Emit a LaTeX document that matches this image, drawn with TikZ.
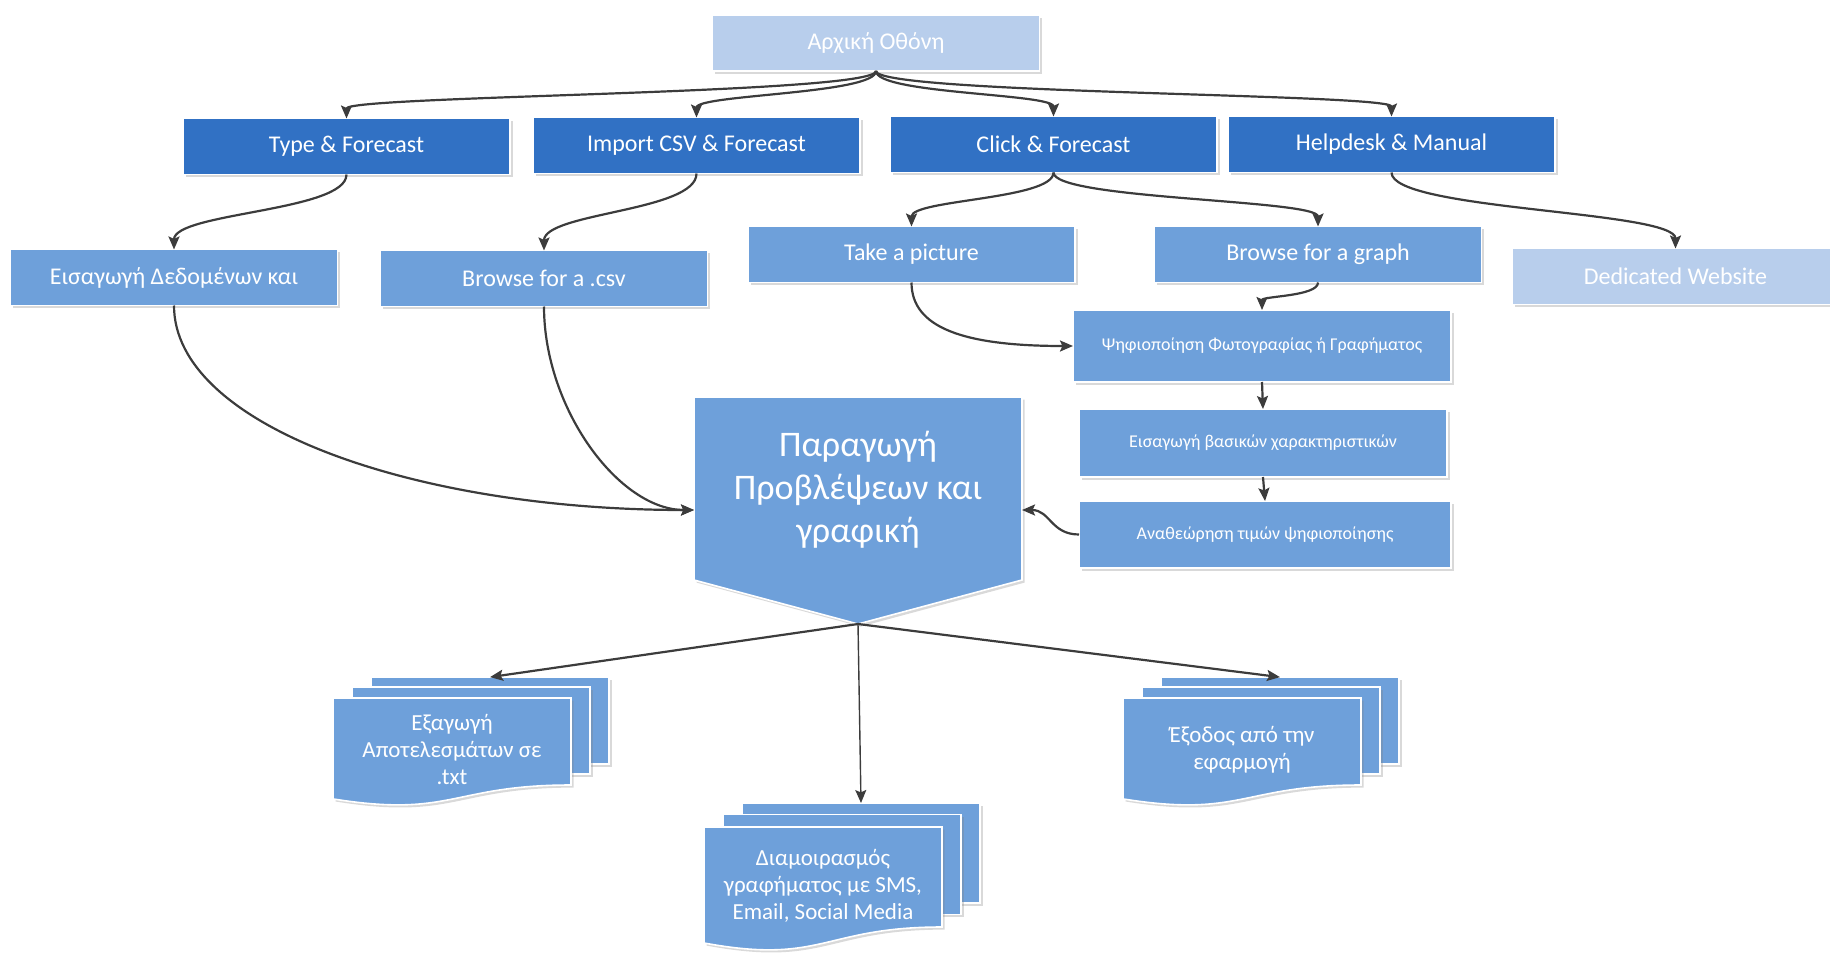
\documentclass[tikz,border=0pt]{standalone}
\usepackage{fontspec}
\setmainfont{Carlito}
\usetikzlibrary{arrows.meta, shadows}
\definecolor{boxdark}{RGB}{49,113,196}
\definecolor{boxmid}{RGB}{110,160,218}
\definecolor{boxlight}{RGB}{184,206,236}
\definecolor{linkgray}{RGB}{60,60,60}

% three stacked pages: name, front page top-left x, y, page height, text
\newcommand{\multidoc}[5]{%
  \node[page, minimum height={#4*0.5pt}, anchor=north west] (#1) at (#2+38,#3-0.24*#4) {};
  \node[page, minimum height={#4*0.5pt}, anchor=north west] (#1-mid) at (#2+19,#3-0.125*#4) {};
  \path[wavepage] (#2,#3) -- (#2+238,#3) -- (#2+238,#3+#4)
        .. controls (#2+119,#3+#4) and (#2+119,#3+1.38*#4) .. (#2,#3+1.16*#4) -- cycle;
  \node[doctext] (#1-txt) at (#2+119,#3+0.59*#4) {#5};
}

\begin{document}
\begin{tikzpicture}[x=0.5pt, y=-0.5pt,
    softshadow/.style={drop shadow={shadow xshift=1.3pt, shadow yshift=-1.3pt, opacity=0.3}},
    box/.style={rectangle, draw=white, line width=0.8pt, text=white, softshadow,
                minimum width=163.5pt, minimum height=28pt, inner sep=2pt, outer sep=0pt,
                font=\fontsize{12}{14}\selectfont},
    darkbox/.style={box, fill=boxdark},
    midbox/.style={box, fill=boxmid},
    lightbox/.style={box, fill=boxlight},
    stepbox/.style={midbox, font=\fontsize{9}{11}\selectfont},
    page/.style={rectangle, fill=boxmid, draw=white, line width=0.8pt, softshadow,
                 minimum width=119pt, inner sep=0pt, outer sep=0pt},
    wavepage/.style={fill=boxmid, draw=white, line width=0.8pt, softshadow},
    doctext/.style={text=white, align=center, font=\fontsize{11.5}{13.5}\selectfont},
    bigtext/.style={text=white, align=center, font=\fontsize{18}{21.5}\selectfont},
    link/.style={draw=linkgray, line width=1.1pt, -{Stealth[length=6.5pt, width=5.5pt, inset=1.2pt]}}]
  \useasboundingbox (0,0) rectangle (1830,953);

  % top rows
  \node[lightbox] (home) at (876,43) {Αρχική Οθόνη};
  \foreach \n/\x/\y/\lbl in {type/346.5/146.5/Type \& Forecast,
                             imp/696.5/145.5/Import CSV \& Forecast,
                             click/1053.5/144.5/Click \& Forecast,
                             help/1391.5/144.5/Helpdesk \& Manual} {
    \node[darkbox] (\n) at (\x,\y) {\lbl};
  }
  \node[midbox] (enter) at (174,277.5) {Εισαγωγή Δεδομένων και};
  \node[midbox] (csv) at (544,278.5) {Browse for a .csv};
  \node[midbox] (pic) at (911.5,254.5) {Take a picture};
  \node[midbox] (graph) at (1318,254.5) {Browse for a graph};
  \node[lightbox] (web) at (1675.5,276.5) {Dedicated Website};

  % digitising steps
  \node[stepbox, minimum width=189pt, minimum height=36pt] (digit) at (1262,346)
        {Ψηφιοποίηση Φωτογραφίας ή Γραφήματος};
  \node[stepbox, minimum width=184pt, minimum height=34pt] (feat) at (1263,443)
        {Εισαγωγή βασικών χαρακτηριστικών};
  \node[stepbox, minimum width=186pt, minimum height=33.5pt] (revise) at (1265,534.5)
        {Αναθεώρηση τιμών ψηφιοποίησης};

  % forecast block
  \path[wavepage] (694,397) -- (1022,397) -- (1022,580) -- (858,624) -- (694,580) -- cycle;
  \node[bigtext] (prod) at (858,490) {Παραγωγή\\Προβλέψεων και\\γραφική};
  \coordinate (prodwest) at (694,510);
  \coordinate (prodeast) at (1022,510);
  \coordinate (prodtip) at (858,624);

  % outputs
  \multidoc{exp}{333}{698}{87}{Εξαγωγή\\Αποτελεσμάτων σε\\.txt}
  \multidoc{share}{704}{827}{100}{Διαμοιρασμός\\γραφήματος με SMS,\\Email, Social Media}
  \multidoc{quit}{1123}{698}{87}{Έξοδος από την\\εφαρμογή}

  % connectors
  \foreach \n in {type, imp, click, help} {
    \draw[link] (home.south) .. controls +(0,23) and +(0,-23) .. (\n.north);
  }
  \draw[link] (type.south) .. controls +(0,37) and +(0,-37) .. (enter.north);
  \draw[link] (imp.south) .. controls +(0,38) and +(0,-38) .. (csv.north);
  \draw[link] (click.south) .. controls +(0,27) and +(0,-27) .. (pic.north);
  \draw[link] (click.south) .. controls +(0,27) and +(0,-27) .. (graph.north);
  \draw[link] (help.south) .. controls +(0,38) and +(0,-38) .. (web.north);
  \draw[link] (graph.south) .. controls +(0,14) and +(0,-14) .. (digit.north);
  \draw[link] (pic.south) .. controls +(0,45) and +(-110,0) .. (digit.west);
  \draw[link] (enter.south) .. controls +(0,120) and +(-280,0) .. (prodwest);
  \draw[link] (csv.south) .. controls +(0,102) and +(-75,0) .. (prodwest);
  \draw[link] (digit.south) -- (feat.north);
  \draw[link] (feat.south) -- (revise.north);
  \draw[link] (revise.west) .. controls +(-28,0) and +(28,0) .. (prodeast);
  \draw[link] (prodtip) -- (exp.north);
  \draw[link, line width=0.7pt] (prodtip) -- (share.north);
  \draw[link] (prodtip) -- (quit.north);
\end{tikzpicture}
\end{document}
